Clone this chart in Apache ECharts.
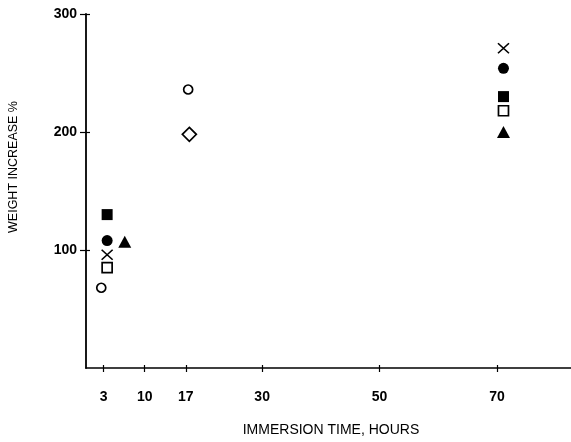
<!DOCTYPE html>
<html>
<head>
<meta charset="utf-8">
<script src="https://cdn.jsdelivr.net/npm/echarts@6/dist/echarts.min.js"></script>
<style>
html,body{margin:0;padding:0;background:#fff;}
#chart{width:571px;height:442px;}
</style>
</head>
<body>
<div id="chart"></div>
<script>
const xTickValues = [3, 10, 17, 30, 50, 70];
const yTickValues = [100, 200, 300];
const xName = 'IMMERSION TIME, HOURS';
const yName = 'WEIGHT INCREASE %';

const openCircleX = [2.6, 17.4];
const openCircleY = [68, 236];
const openSquareX = [3.6, 71.1];
const openSquareY = [85, 218];
const crossX = [3.6, 71.1];
const crossY = [96, 271];
const filledCircleX = [3.6, 71.1];
const filledCircleY = [108, 254];
const filledSquareX = [3.6, 71.1];
const filledSquareY = [130, 230];
const triangleX = [6.6, 71.1];
const triangleY = [107, 200];
const diamondX = [17.6];
const diamondY = [198];

function pts(xs, ys) { return xs.map((x, i) => [x, ys[i]]); }

const openStyle = { color: '#fff', borderColor: '#000', borderWidth: 1.7, opacity: 1 };
const fillStyle = { color: '#000', opacity: 1 };

const chart = echarts.init(document.getElementById('chart'), null, { renderer: 'canvas' });
const labelFont = { color: '#000', fontFamily: 'Liberation Sans', fontSize: 14, fontWeight: 'bold' };

chart.setOption({
  animation: false,
  backgroundColor: '#fff',
  grid: { left: 86, right: 0, top: 14, bottom: 74, containLabel: false },
  xAxis: [{
    type: 'value', min: 0, max: 82.6, position: 'bottom',
    axisLine: { show: true, lineStyle: { color: '#000', width: 1.6 } },
    axisTick: { show: true, inside: false, length: 4, customValues: xTickValues, lineStyle: { color: '#000', width: 1.2 } },
    axisLabel: Object.assign({ show: true, margin: 22, customValues: xTickValues }, labelFont),
    splitLine: { show: false }
  }, {
    type: 'value', min: 0, max: 82.6, position: 'bottom', gridIndex: 0,
    axisLine: { show: false },
    axisTick: { show: true, inside: true, length: 3, customValues: xTickValues, lineStyle: { color: '#000', width: 1.2 } },
    axisLabel: { show: false },
    splitLine: { show: false }
  }],
  yAxis: [{
    type: 'value', min: 0, max: 300, position: 'left',
    axisLine: { show: true, lineStyle: { color: '#000', width: 1.8 } },
    axisTick: { show: true, inside: false, length: 6, customValues: yTickValues, lineStyle: { color: '#000', width: 1.2 } },
    axisLabel: Object.assign({ show: true, margin: 9, customValues: yTickValues }, labelFont),
    splitLine: { show: false }
  }, {
    type: 'value', min: 0, max: 300, position: 'left', gridIndex: 0,
    axisLine: { show: false },
    axisTick: { show: true, inside: true, length: 4, customValues: yTickValues, lineStyle: { color: '#000', width: 1.2 } },
    axisLabel: { show: false },
    splitLine: { show: false }
  }],
  graphic: [{
    type: 'text', x: 331, y: 430,
    style: { text: xName, fill: '#000', font: '14px "Liberation Sans"', textAlign: 'center', textVerticalAlign: 'middle' }
  }, {
    type: 'text', x: 14, y: 167, rotation: Math.PI / 2,
    style: { text: yName, fill: '#000', font: '12.5px "Liberation Sans"', textAlign: 'center', textVerticalAlign: 'middle' }
  }],
  series: [
    { type: 'scatter', name: 'open circle', data: pts(openCircleX, openCircleY), symbol: 'circle', symbolSize: 9, itemStyle: openStyle },
    { type: 'scatter', name: 'open square', data: pts(openSquareX, openSquareY), symbol: 'rect', symbolSize: 10, itemStyle: openStyle },
    { type: 'scatter', name: 'cross', data: pts(crossX, crossY), symbol: 'path://M0,0L10,10M10,0L0,10', symbolSize: [11, 10], itemStyle: { color: 'none', borderColor: '#000', borderWidth: 1.5, opacity: 1 } },
    { type: 'scatter', name: 'filled circle', data: pts(filledCircleX, filledCircleY), symbol: 'circle', symbolSize: 11, itemStyle: fillStyle },
    { type: 'scatter', name: 'filled square', data: pts(filledSquareX, filledSquareY), symbol: 'rect', symbolSize: 11, itemStyle: fillStyle },
    { type: 'scatter', name: 'filled triangle', data: pts(triangleX, triangleY), symbol: 'triangle', symbolSize: [13, 12], itemStyle: fillStyle },
    { type: 'scatter', name: 'open diamond', data: pts(diamondX, diamondY), symbol: 'diamond', symbolSize: 14, itemStyle: openStyle }
  ]
});
</script>
</body>
</html>
